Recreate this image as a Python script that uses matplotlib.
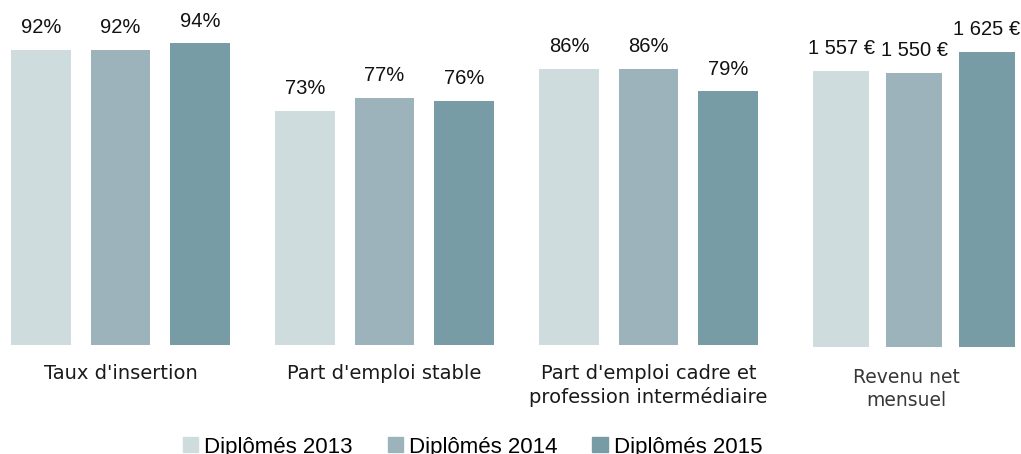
import numpy as np
import matplotlib.pyplot as plt

# data
series = ['Diplômés 2013', 'Diplômés 2014', 'Diplômés 2015']
colors = ['#cfdcde', '#9cb3bc', '#789ca5']

pct_categories = ["Taux d'insertion", "Part d'emploi stable",
                  "Part d'emploi cadre et\nprofession intermédiaire"]
pct_2013 = [92, 73, 86]
pct_2014 = [92, 77, 86]
pct_2015 = [94, 76, 79]

rev_category = "Revenu net\nmensuel"
rev_values = [1557, 1550, 1625]
rev_labels = ['1 557 €', '1 550 €', '1 625 €']

W, H = 1021, 454
fig = plt.figure(figsize=(W / 100, H / 100), dpi=100)

val_font = dict(family='Liberation Sans', fontsize=14.5, color='#111111')

# percentage groups
ax1 = fig.add_axes([0, 109 / H, 780 / W, 1 - 109 / H])
ax1.set_xlim(-0.456, 2.498)
ax1.set_ylim(0, 107.5)
x = np.arange(len(pct_categories))
for i, vals in enumerate([pct_2013, pct_2014, pct_2015]):
    pos = x + (i - 1) * 0.301
    ax1.bar(pos, vals, width=0.225, color=colors[i], label=series[i])
    for p, v in zip(pos, vals):
        ax1.annotate(f'{v}%', (p, v), xytext=(0, 12), textcoords='offset points',
                     ha='center', va='baseline', **val_font)
ax1.axis('off')
sizes = [14, 14, 14]
for xi, lab, fs in zip(x, pct_categories, sizes):
    ax1.annotate(lab, (xi, 0), xytext=(0, -14), textcoords='offset points',
                 ha='center', va='top', fontsize=fs, color='#1a1a1a',
                 family='DejaVu Sans', linespacing=1.2)

# revenue group
ax2 = fig.add_axes([780 / W, 107 / H, 1 - 780 / W, 1 - 107 / H])
ax2.set_xlim(-0.836, 2.466)
ax2.set_ylim(569, 1811)
xr = np.arange(len(rev_values))
ax2.bar(xr, rev_values, width=0.767, color=colors, bottom=0)
for p, v, t in zip(xr, rev_values, rev_labels):
    ax2.annotate(t, (p, v), xytext=(0, 12.5), textcoords='offset points',
                 ha='center', va='baseline', annotation_clip=False, **val_font)
ax2.axis('off')
ax2.annotate(rev_category, (0.9, 569), xytext=(0, -15), textcoords='offset points',
             ha='center', va='top', fontsize=13.5, color='#383838',
             family='DejaVu Sans', linespacing=1.25)

# legend (cut off at the bottom edge, as in the original)
handles = [plt.Rectangle((0, 0), 1, 1, color=c) for c in colors]
leg = fig.legend(handles, series, loc='center left',
                 bbox_to_anchor=(183 / W, (H - 447) / H), ncol=3, frameon=False,
                 prop={'family': 'Liberation Sans', 'size': 16},
                 handlelength=0.68, handleheight=0.68, handletextpad=0.27,
                 columnspacing=1.58, borderpad=0, borderaxespad=0)

fig.savefig('out.png', dpi=100)
